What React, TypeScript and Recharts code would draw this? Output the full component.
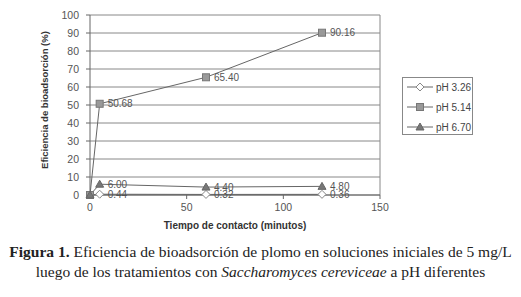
import { LineChart, Line, XAxis, YAxis, CartesianGrid, LabelList, Label, ReferenceLine } from "recharts";

const times = [0, 5, 60, 120];
const ph326 = [0, 0.44, 0.32, 0.36];
const ph514 = [0, 50.68, 65.4, 90.16];
const ph670 = [0, 6.0, 4.4, 4.8];
const xTicks = [0, 50, 100, 150];
const yTicks = [0, 10, 20, 30, 40, 50, 60, 70, 80, 90, 100];

const data = times.map((t, i) => ({ t, a: ph326[i], b: ph514[i], c: ph670[i] }));

const font = "'Liberation Sans', Arial, sans-serif";
const ink = "#555";

const Diamond = (props: any) => {
  const { cx, cy } = props;
  if (cx == null) return null;
  return <path d={`M${cx},${cy - 4}L${cx + 4},${cy}L${cx},${cy + 4}L${cx - 4},${cy}Z`} fill="#fff" stroke="#888" strokeWidth={1} />;
};
const Square = (props: any) => {
  const { cx, cy } = props;
  if (cx == null) return null;
  return <rect x={cx - 3.5} y={cy - 3.5} width={7} height={7} fill="#999" stroke="#777" strokeWidth={1} />;
};
const Triangle = (props: any) => {
  const { cx, cy } = props;
  if (cx == null) return null;
  return <path d={`M${cx},${cy - 4}L${cx + 4},${cy + 3}L${cx - 4},${cy + 3}Z`} fill="#777" stroke="#666" strokeWidth={1} />;
};

const fmt = (v: any) => (typeof v === "number" && v > 0 ? v.toFixed(2) : "");

const legendItems = [
  { name: "pH 3.26", shape: "d" },
  { name: "pH 5.14", shape: "s" },
  { name: "pH 6.70", shape: "t" },
];

const LegendBox = () => (
  <div style={{ position: "absolute", left: 402, top: 77, border: "1px solid #888", width: 71, height: 58, boxSizing: "border-box", paddingTop: 0, fontFamily: font, fontSize: 10, color: "#444", background: "#fff", whiteSpace: "nowrap" }}>
    {legendItems.map((it) => (
      <div key={it.name} style={{ display: "flex", alignItems: "center", height: 20, marginTop: it.shape === "d" ? -1 : 0 }}>
        <svg width={33} height={12} style={{ flexShrink: 0 }}>
          <line x1={4} x2={30} y1={6} y2={6} stroke="#666" />
          {it.shape === "d" && <Diamond cx={17} cy={6} />}
          {it.shape === "s" && <Square cx={17} cy={6} />}
          {it.shape === "t" && <Triangle cx={17} cy={6} />}
        </svg>
        <span>{it.name}</span>
      </div>
    ))}
  </div>
);

export default function App() {
  return (
    <div style={{ position: "absolute", left: 0, top: 0, width: 521, height: 297, background: "#fff" }}>
      <LineChart width={521} height={235} data={data} margin={{ top: 15, right: 141, bottom: 0, left: 58 }}>
        <CartesianGrid horizontal vertical={false} stroke="#888" />
        <XAxis
          dataKey="t"
          type="number"
          domain={[0, 150]}
          ticks={xTicks}
          stroke="#666"
          tickSize={4}
          tickMargin={5}
          height={40}
          tick={{ fill: ink, fontSize: 10.5, fontFamily: font }}
        >
          <Label
            content={() => (
              <text x={235} y={229} textAnchor="middle" fontFamily={font} fontSize={10} fontWeight="bold" fill="#333">
                Tiempo de contacto (minutos)
              </text>
            )}
          />
        </XAxis>
        <YAxis
          type="number"
          domain={[0, 100]}
          ticks={yTicks}
          stroke="#666"
          tickSize={4}
          tickMargin={7}
          width={32}
          interval={0}
          tick={{ fill: ink, fontSize: 10.5, fontFamily: font }}
        >
          <Label
            content={() => (
              <text x={48} y={100} transform="rotate(-90 48 100)" textAnchor="middle" fontFamily={font} fontSize={9.5} fontWeight="bold" fill="#333">
                Eficiencia de bioadsorción (%)
              </text>
            )}
          />
        </YAxis>
        <ReferenceLine x={150} stroke="#888" />
        <Line dataKey="a" name="pH 3.26" stroke="#666" strokeWidth={1} dot={<Diamond />} isAnimationActive={false}>
          <LabelList dataKey="a" position="right" offset={8} formatter={fmt} fill={ink} fontSize={10} fontFamily={font} />
        </Line>
        <Line dataKey="b" name="pH 5.14" stroke="#666" strokeWidth={1} dot={<Square />} isAnimationActive={false}>
          <LabelList dataKey="b" position="right" offset={8} formatter={fmt} fill={ink} fontSize={10} fontFamily={font} />
        </Line>
        <Line dataKey="c" name="pH 6.70" stroke="#666" strokeWidth={1} dot={<Triangle />} isAnimationActive={false}>
          <LabelList dataKey="c" position="right" offset={8} formatter={fmt} fill={ink} fontSize={10} fontFamily={font} />
        </Line>
      </LineChart>
      <LegendBox />
      <div style={{ position: "absolute", left: 0, top: 242, width: 521, textAlign: "center", fontFamily: "'Liberation Serif', 'DejaVu Serif', serif", fontSize: 15.5, lineHeight: "20px", color: "#222" }}>
        <b>Figura 1.</b> Eficiencia de bioadsorción de plomo en soluciones iniciales de 5 mg/L
        <br />
        luego de los tratamientos con <i>Saccharomyces cereviceae</i> a pH diferentes
      </div>
    </div>
  );
}
